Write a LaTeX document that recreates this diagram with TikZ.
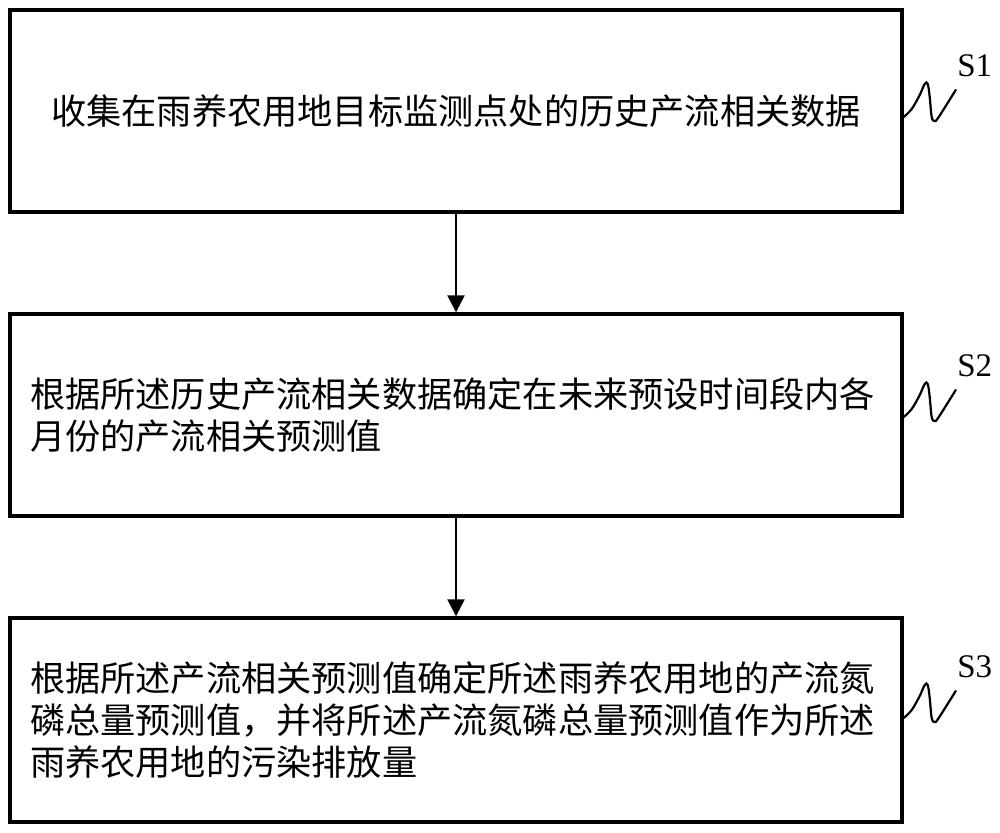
\documentclass[tikz,border=0pt]{standalone}
\usepackage{fontspec}
\setmainfont{Liberation Serif}
\newfontfamily\cjk{Noto Sans CJK SC}
\usetikzlibrary{arrows.meta,calc}
\tikzset{
  stepbox/.style={draw, line width=1.7pt, minimum width=446pt, inner xsep=10pt,
    text width=426pt, font=\cjk\fontsize{17.6}{21}\selectfont},
  arr/.style={line width=1.2pt, -{Triangle[width=8.5pt,length=8.5pt]}},
  squig/.style={line width=1.1pt, line cap=round},
  steplabel/.style={font=\fontsize{16.5}{19}\selectfont, inner sep=0pt}
}
\begin{document}
\begin{tikzpicture}[x=0.5pt,y=-0.5pt]
\useasboundingbox (0,0) rectangle (1000,833);
\node[stepbox, minimum height=101pt, align=center] (b1) at (456,111)
  {收集在雨养农用地目标监测点处的历史产流相关数据};
\node[stepbox, minimum height=101pt, align=left] (b2) at (456,415)
  {根据所述历史产流相关数据确定在未来预设时间段内各\\月份的产流相关预测值};
\node[stepbox, minimum height=102pt, align=left] (b3) at (456,720)
  {根据所述产流相关预测值确定所述雨养农用地的产流氮\\磷总量预测值，并将所述产流氮磷总量预测值作为所述\\雨养农用地的污染排放量};
\draw[arr] (b1.south) -- (b2.north);
\draw[arr] (b2.south) -- (b3.north);
\foreach \b/\dy/\lab in {b1/6/S1, b2/2/S2, b3/-2/S3} {
  \coordinate (s\b) at ($(\b.east)+(0,\dy)$);
  \begin{scope}[shift={(s\b)}]
    \draw[squig] plot[smooth, tension=0.6] coordinates
      {(0,0) (8,-8) (16,-22) (21,-33) (24,-33) (26,-20) (28,0) (31,4) (35,0) (52,-27)};
    \coordinate (e\b) at (52,-27);
  \end{scope}
  \node[steplabel] (l\b) at ($(e\b)+(19,-24)$) {\lab};
}
\end{tikzpicture}
\end{document}
